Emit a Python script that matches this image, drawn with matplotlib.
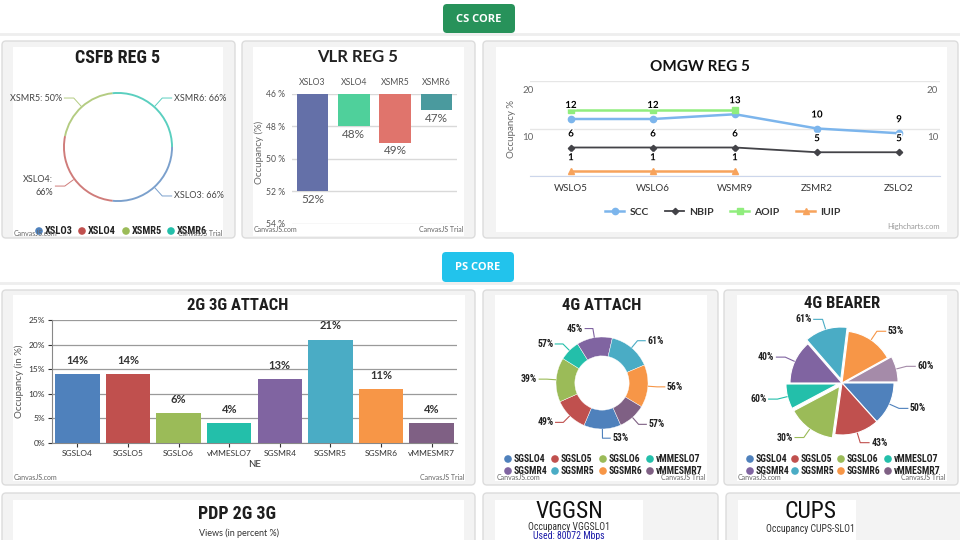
import numpy as np
import matplotlib
matplotlib.use("Agg")
import matplotlib.pyplot as plt
from matplotlib import font_manager as fm
from matplotlib.patches import FancyBboxPatch, Rectangle, Circle
import matplotlib.patheffects as pe

plt.rcParams['font.family'] = ['Lato', 'DejaVu Sans']

# pick a narrow face for the CanvasJS titles / legends, whatever is installed
_faces = fm.fontManager.ttflist
_names = {f.name for f in _faces}
if 'Liberation Sans Narrow' in _names:
    NARROW, NSTRETCH, NSCALE = ['Liberation Sans Narrow', 'DejaVu Sans'], 'normal', 1.0
elif 'Roboto Condensed' in _names:
    NARROW, NSTRETCH, NSCALE = ['Roboto Condensed', 'DejaVu Sans'], 'normal', 1.0
elif any(f.name == 'DejaVu Sans' and f.stretch == 'condensed' for f in _faces):
    NARROW, NSTRETCH, NSCALE = ['DejaVu Sans'], 'condensed', 0.85
else:
    NARROW, NSTRETCH, NSCALE = ['Lato', 'DejaVu Sans'], 'normal', 0.82

# ---- data ----
csfb_nodes = ["XSLO3", "XSLO4", "XSMR5", "XSMR6"]
csfb_values = [66, 66, 50, 66]

vlr_nodes = ["XSLO3", "XSLO4", "XSMR5", "XSMR6"]
vlr_values = [52, 48, 49, 47]

omgw_nodes = ["WSLO5", "WSLO6", "WSMR9", "ZSMR2", "ZSLO2"]
omgw_scc = [12, 12, 13, 10, 9]
omgw_nbip = [6, 6, 6, 5, 5]
omgw_aoip = [14, 14, 14, None, None]
omgw_iuip = [1, 1, 1, None, None]

ps_nodes = ["SGSLO4", "SGSLO5", "SGSLO6", "vMMESLO7",
            "SGSMR4", "SGSMR5", "SGSMR6", "vMMESMR7"]
attach_2g3g = [14, 14, 6, 4, 13, 21, 11, 4]
attach_4g_share = [47, 43, 56, 26, 45, 54, 54, 35]
attach_4g_pct = [53, 49, 39, 57, 45, 61, 56, 57]
bearer_4g_share = [48, 50, 54, 28, 49, 48, 54, 29]
bearer_4g_pct = [50, 43, 30, 60, 40, 61, 53, 60]

canvas_colors = ["#4F81BC", "#C0504E", "#9BBB58", "#23BFAA",
                 "#8064A1", "#4AACC5", "#F79647", "#7F6084"]

W, H = 960, 540
fig = plt.figure(figsize=(9.6, 5.4), dpi=100)
fig.patch.set_facecolor('white')


def box(x0, y0, x1, y1):
    # pixel box (top-left origin) -> figure fraction rect
    return [x0 / W, 1 - y1 / H, (x1 - x0) / W, (y1 - y0) / H]


bg = fig.add_axes([0, 0, 1, 1], zorder=-1)
bg.set_xlim(0, W)
bg.set_ylim(H, 0)
bg.axis('off')


def panel(outer, inner):
    x0, y0, x1, y1 = outer
    bg.add_patch(FancyBboxPatch((x0, y0), x1 - x0, y1 - y0,
                                boxstyle="round,pad=0,rounding_size=4",
                                fc='#f3f3f3', ec='#dcdcdc', lw=1))
    ix0, iy0, ix1, iy1 = inner
    bg.add_patch(Rectangle((ix0, iy0), ix1 - ix0, iy1 - iy0, fc='white', ec='none'))


def button(x0, y0, x1, y1, color, text):
    bg.add_patch(FancyBboxPatch((x0, y0), x1 - x0, y1 - y0,
                                boxstyle="round,pad=0,rounding_size=4",
                                fc=color, ec='none'))
    bg.text((x0 + x1) / 2, (y0 + y1) / 2 + 1, text, color='white', fontsize=8,
            fontweight='bold', ha='center', va='center',
            family=['Open Sans', 'DejaVu Sans'])


def narrow_text(x, y, s, size, weight='bold', color='#1e1e1e', **kw):
    return bg.text(x, y, s, fontsize=size * NSCALE, fontweight=weight, family=NARROW,
                   fontstretch=NSTRETCH, color=color, **kw)


def heavy_title(x, y, s, size=12):
    narrow_text(x, y, s, size, ha='center', va='center')


def canvasjs_marks(x0, x1, y):
    bg.text(x0, y, "CanvasJS.com", fontsize=5, color='#666666', ha='left', va='center')
    bg.text(x1, y, "CanvasJS Trial", fontsize=5, color='#666666', ha='right', va='center')


def dot_legend(names, xs, y, colors, size=7):
    for name, x, col in zip(names, xs, colors):
        bg.add_patch(Circle((x, y), 3.8, fc=col, ec='none'))
        narrow_text(x + 5.5, y + 0.5, name, size, color='#222222', ha='left', va='center')


def pie_callouts(ax, wedges, texts, fontsize=6.5, bold=True, lw=0.8, wrap=False):
    for w, t in zip(wedges, texts):
        mid = np.deg2rad((w.theta1 + w.theta2) / 2)
        cx, cy = w.center
        r = w.r
        ux, uy = np.cos(mid), np.sin(mid)
        side = 1 if ux >= 0 else -1
        p0 = (cx + r * ux, cy + r * uy)
        p1 = (cx + 1.2 * r * ux, cy + 1.2 * r * uy)
        p2 = (p1[0] + side * 0.18 * r, p1[1])
        col = w.get_facecolor()
        ax.plot([p0[0], p1[0], p2[0]], [p0[1], p1[1], p2[1]], color=col, lw=lw,
                clip_on=False, solid_capstyle='butt')
        if wrap and ux < -0.7:
            t = t.replace(": ", ":\n")
        kw = dict(ha='left' if side > 0 else 'right', va='center', linespacing=1.6)
        if bold:
            ax.text(p2[0] + side * 0.03, p2[1], t, fontsize=fontsize * NSCALE,
                    fontweight='bold', family=NARROW, fontstretch=NSTRETCH,
                    color='#222222', **kw)
        else:
            ax.text(p2[0] + side * 0.03, p2[1], t, fontsize=fontsize, color='#444444', **kw)


# ---- page frame ----
bg.plot([0, W], [34, 34], color='#eeeeee', lw=2)
button(443, 4, 515, 33, '#27925a', "CS CORE")
bg.plot([0, W], [283, 283], color='#eeeeee', lw=2)
button(442, 252, 514, 282, '#22c3ec', "PS CORE")

panel((2, 41, 235, 238), (13, 47, 223, 236))
panel((242, 41, 475, 238), (253, 47, 464, 236))
panel((483, 41, 958, 238), (496, 47, 947, 232))
panel((2, 290, 475, 485), (13, 295, 465, 481))
panel((483, 290, 718, 485), (495, 295, 707, 481))
panel((724, 290, 958, 485), (737, 295, 947, 481))
panel((2, 493, 475, 560), (13, 500, 464, 560))
panel((483, 493, 718, 560), (495, 500, 643, 560))
panel((726, 493, 968, 560), (738, 500, 856, 560))

# ---- CSFB REG 5 (thin ring) ----
heavy_title(118, 58, "CSFB REG 5", 13)
R = 55
cx, cy = 118, 147
ax1 = fig.add_axes(box(cx - 1.25 * R, cy - 1.25 * R, cx + 1.25 * R, cy + 1.25 * R), facecolor='none')
w1, _ = ax1.pie(csfb_values, colors=canvas_colors[:4], startangle=0, counterclock=False,
                wedgeprops=dict(width=0.035, edgecolor='none', alpha=0.75))
ax1.set_xlim(-1.25, 1.25)
ax1.set_ylim(-1.25, 1.25)
ax1.set_aspect('equal')
pie_callouts(ax1, w1, [f"{n}: {v}%" for n, v in zip(csfb_nodes, csfb_values)],
             fontsize=6.5, bold=False, lw=0.7, wrap=True)
dot_legend(csfb_nodes, [39, 82, 126, 171], 231, canvas_colors[:4], size=7.5)
canvasjs_marks(14, 222, 233)

# ---- VLR REG 5 (reversed bars) ----
bg.text(358, 57, "VLR REG 5", ha='center', va='center', fontsize=12, fontweight='bold',
        color='#222222')
ax2 = fig.add_axes(box(292, 94, 457, 224), facecolor='none')
vlr_colors = ["#6470A8", "#4FD09B", "#E0746C", "#4A9A9E"]
xv = np.arange(len(vlr_nodes))
vb = ax2.bar(xv, [v - 46 for v in vlr_values], bottom=46, width=0.76, color=vlr_colors, zorder=3)
ax2.set_xlim(-0.5, len(vlr_nodes) - 0.5)
ax2.set_ylim(54, 46)
ax2.set_yticks(range(46, 55, 2))
ax2.set_yticklabels([f"{v} %" for v in range(46, 55, 2)])
ax2.xaxis.tick_top()
ax2.set_xticks(xv)
ax2.set_xticklabels(vlr_nodes)
ax2.tick_params(axis='both', length=0, labelsize=6.2, colors='#555555', pad=5)
ax2.grid(axis='y', color='#d9d9d9', lw=1)
for s in ax2.spines.values():
    s.set_visible(False)
for rect, v in zip(vb, vlr_values):
    ax2.text(rect.get_x() + rect.get_width() / 2, v + 0.15, f"{v}%", ha='center', va='top',
             fontsize=8.5, color='#555555')
ax2.set_ylabel("Occupancy (%)", fontsize=7, color='#666666')
ax2.yaxis.set_label_coords(-0.17, 0.55)
canvasjs_marks(254, 463, 230)

# ---- OMGW REG 5 (Highcharts lines) ----
bg.text(700, 67, "OMGW REG 5", ha='center', va='center', fontsize=11, fontweight='bold',
        color='#111111')
ax3 = fig.add_axes(box(530, 81, 940, 176), facecolor='none')
xo = np.arange(len(omgw_nodes))
series = [
    ("SCC", omgw_scc, '#7CB5EC', 'o', 4.5, 1.8, True),
    ("NBIP", omgw_nbip, '#434348', 'D', 3.2, 1.3, True),
    ("AOIP", omgw_aoip, '#90ED7D', 's', 4.2, 1.8, False),
    ("IUIP", omgw_iuip, '#F7A35C', '^', 4.5, 1.8, True),
]
for name, vals, col, mk, ms, lw, show in series:
    arr = np.array(vals, dtype=float)
    ax3.plot(xo, arr, color=col, marker=mk, ms=ms, lw=lw, label=name, zorder=3)
    if show:
        for xi, v in zip(xo, arr):
            if np.isnan(v):
                continue
            ax3.annotate(f"{v:.0f}", (xi, v), xytext=(0, 6.5), textcoords='offset points',
                         ha='center', va='bottom', fontsize=7, fontweight='bold',
                         color='#000000', zorder=5,
                         path_effects=[pe.withStroke(linewidth=2, foreground='white')])
ax3.set_xlim(-0.5, len(omgw_nodes) - 0.5)
ax3.set_ylim(0, 20)
ax3.set_yticks([0, 10, 20])
ax3.set_yticklabels([])
ax3.grid(axis='y', color='#e6e6e6', lw=1)
ax3.set_axisbelow(True)
for s in ['top', 'right', 'left']:
    ax3.spines[s].set_visible(False)
ax3.spines['bottom'].set_color('#ccd6eb')
ax3.set_xticks(xo)
ax3.set_xticklabels(omgw_nodes)
ax3.tick_params(axis='both', length=0, labelsize=7, colors='#333333', pad=6)
for v in [10, 20]:
    ax3.text(0.008, v - 1.9, str(v), transform=ax3.get_yaxis_transform(), ha='right',
             va='center', fontsize=7, color='#666666')
    ax3.text(0.968, v - 1.9, str(v), transform=ax3.get_yaxis_transform(), ha='left',
             va='center', fontsize=7, color='#666666')
ax3.set_ylabel("Occupancy %", fontsize=7, color='#666666')
ax3.yaxis.set_label_coords(-0.035, 0.5)
ax3.legend(loc='center', bbox_to_anchor=(723 / W, 1 - 212 / H), bbox_transform=fig.transFigure,
           ncol=4, frameon=False, handlelength=1.8, columnspacing=1.6, handletextpad=0.5,
           prop={'size': 7.5, 'weight': 'bold'}, labelcolor='#333333')
bg.text(940, 226, "Highcharts.com", ha='right', va='center', fontsize=5.5, color='#999999')

# ---- 2G 3G ATTACH (bars) ----
heavy_title(238, 305, "2G 3G ATTACH", 12)
ax4 = fig.add_axes(box(52, 320, 457, 443), facecolor='none')
xp = np.arange(len(ps_nodes))
b4 = ax4.bar(xp, attach_2g3g, width=0.88, color=canvas_colors, zorder=3)
ax4.set_xlim(-0.5, len(ps_nodes) - 0.5)
ax4.set_ylim(0, 25)
ax4.set_yticks(range(0, 26, 5))
ax4.set_yticklabels([f"{v}%" for v in range(0, 26, 5)])
ax4.set_xticks(xp)
ax4.set_xticklabels(ps_nodes)
ax4.grid(axis='y', color='#9a9a9a', lw=0.9)
ax4.set_axisbelow(True)
for s in ['top', 'right']:
    ax4.spines[s].set_visible(False)
ax4.spines['left'].set_color('#888888')
ax4.spines['bottom'].set_color('#888888')
ax4.tick_params(axis='both', labelsize=6, colors='#333333', length=3, pad=2)
ax4.bar_label(b4, labels=[f"{v}%" for v in attach_2g3g], padding=6, fontsize=8,
              fontweight='bold', color='#333333')
ax4.set_ylabel("Occupancy (in %)", fontsize=7, color='#555555')
ax4.yaxis.set_label_coords(-0.07, 0.5)
ax4.set_xlabel("NE", fontsize=7, color='#333333', labelpad=2)
canvasjs_marks(14, 464, 477)

# ---- 4G ATTACH (doughnut) ----
heavy_title(602, 305, "4G ATTACH", 12)
R = 46
cx, cy = 602, 383
ax5 = fig.add_axes(box(cx - 1.25 * R, cy - 1.25 * R, cx + 1.25 * R, cy + 1.25 * R), facecolor='none')
w5, _ = ax5.pie(attach_4g_share, colors=canvas_colors, startangle=-66, counterclock=False,
                wedgeprops=dict(width=0.41, edgecolor='white', lw=0.3))
ax5.set_xlim(-1.25, 1.25)
ax5.set_ylim(-1.25, 1.25)
ax5.set_aspect('equal')
pie_callouts(ax5, w5, [f"{v}%" for v in attach_4g_pct], fontsize=7)
dot_legend(ps_nodes[:4], [508, 555, 603, 650], 459, canvas_colors[:4])
dot_legend(ps_nodes[4:], [508, 555, 603, 650], 471, canvas_colors[4:])
canvasjs_marks(497, 705, 477)

# ---- 4G BEARER (exploded pie) ----
heavy_title(842, 304, "4G BEARER", 12)
R = 52
cx, cy = 842, 383
ax6 = fig.add_axes(box(cx - 1.25 * R, cy - 1.25 * R, cx + 1.25 * R, cy + 1.25 * R), facecolor='none')
bearer_colors = canvas_colors[:7] + ["#A58BA9"]
w6, _ = ax6.pie(bearer_4g_share, colors=bearer_colors, startangle=0, counterclock=False,
                explode=[0, 0, 0.08, 0.08, 0, 0.08, 0, 0.08],
                wedgeprops=dict(edgecolor='white', lw=0.8))
ax6.set_xlim(-1.25, 1.25)
ax6.set_ylim(-1.25, 1.25)
ax6.set_aspect('equal')
pie_callouts(ax6, w6, [f"{v}%" for v in bearer_4g_pct], fontsize=7)
dot_legend(ps_nodes[:4], [750, 795, 841, 888], 459, canvas_colors[:4])
dot_legend(ps_nodes[4:], [750, 795, 841, 888], 471, canvas_colors[4:])
canvasjs_marks(738, 945, 477)

# ---- third row (cut off at the bottom) ----
heavy_title(237, 514, "PDP 2G 3G", 13)
bg.text(239, 533, "Views (in percent %)", ha='center', va='center', fontsize=6.5, color='#333333')
narrow_text(569, 511, "VGGSN", 17, weight='normal', color='#111111', ha='center', va='center')
narrow_text(569, 527, "Occupancy VGGSLO1", 7, weight='normal', color='#333333',
            ha='center', va='center')
narrow_text(569, 536, "Used: 80072 Mbps", 7, weight='normal', color='#1a1aa8',
            ha='center', va='center')
narrow_text(810, 511, "CUPS", 17, weight='normal', color='#111111', ha='center', va='center')
narrow_text(810, 529, "Occupancy CUPS-SLO1", 7, weight='normal', color='#333333',
            ha='center', va='center')

fig.savefig("out.png", dpi=100)
